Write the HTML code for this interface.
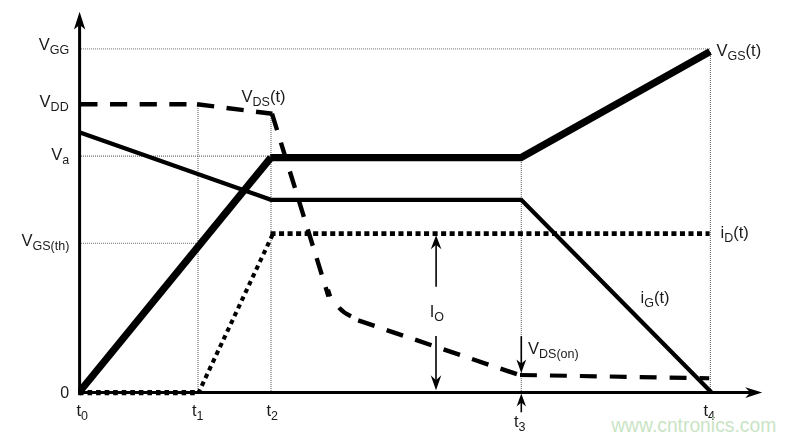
<!DOCTYPE html>
<html>
<head>
<meta charset="utf-8">
<style>
html,body{margin:0;padding:0;background:#fff;}
body{width:795px;height:440px;overflow:hidden;}
svg{display:block;}
text{font-family:"Liberation Sans",sans-serif;fill:#1a1a1a;}
.m{font-size:16.5px;}
.s{font-size:12.5px;}
.g{stroke:#6c6c6c;stroke-width:1.15;stroke-dasharray:1 1;fill:none;}
.gl{stroke:#8e8e8e;stroke-width:1.3;stroke-dasharray:1 1;fill:none;}
.k{stroke:#000;fill:none;}
.d{stroke:#000;fill:none;stroke-width:4.4;}
</style>
</head>
<body>
<svg width="795" height="440" viewBox="0 0 795 440">
<defs><filter id="gs" x="0" y="0" width="795" height="440" filterUnits="userSpaceOnUse" color-interpolation-filters="sRGB"><feColorMatrix type="saturate" values="0"/></filter></defs>
<rect width="795" height="440" fill="#fff"/>
<g filter="url(#gs)">

<!-- grid lines -->
<line class="gl" x1="81" y1="48.9" x2="710" y2="48.9"/>
<line class="g" x1="81" y1="156.1" x2="271" y2="156.1"/>
<line class="gl" x1="81" y1="243.4" x2="198" y2="243.4"/>
<line class="g" x1="198.0" y1="104" x2="198.0" y2="391"/>
<line class="g" x1="271.0" y1="114" x2="271.0" y2="391"/>
<line class="g" x1="521.3" y1="158" x2="521.3" y2="391"/>
<line class="g" x1="710.4" y1="52" x2="710.4" y2="391"/>

<!-- axes -->
<line class="k" x1="79.6" y1="395.3" x2="79.6" y2="24" stroke-width="3"/>
<polygon points="79.60,11.80 85.30,29.40 79.60,25.00 73.90,29.40" fill="#000"/>
<line class="k" x1="78.1" y1="392.6" x2="750" y2="392.6" stroke-width="3"/>
<polygon points="762.20,392.60 745.20,398.00 750.20,392.60 745.20,387.20" fill="#000"/>

<!-- iD(t) dotted -->
<line class="k" x1="80" y1="392.6" x2="198" y2="392.6" stroke-width="5.4" stroke-dasharray="4.6 3.95" stroke-dashoffset="1"/>
<line class="k" x1="272.6" y1="234.6" x2="198.6" y2="392.6" stroke-width="4.1" stroke-dasharray="4.5 4.05"/>
<line class="k" x1="270.5" y1="233.7" x2="709.6" y2="233.7" stroke-width="4.8" stroke-dasharray="5.05 3.48"/>

<!-- iG(t) -->
<polyline class="k" points="80,132.5 271,199.8 521.3,199.8 711.3,392.3" stroke-width="4.25" stroke-linejoin="miter"/>

<!-- VGS(t) thick -->
<clipPath id="c"><rect x="78.1" y="0" width="700" height="395.3"/></clipPath>
<line class="k" x1="78.7" y1="392.8" x2="270.9" y2="157.6" stroke-width="7.3" clip-path="url(#c)"/>
<polygon points="270.20,161.35 521.95,161.35 711.79,54.78 708.21,48.42 520.05,154.05 270.20,154.05" fill="#000"/>

<!-- VDS(t) dashed -->
<line class="d" x1="80.3" y1="104.3" x2="198" y2="104.3" stroke-dasharray="17.2 12.47"/>
<line class="d" x1="197" y1="104.2" x2="272.4" y2="113.8" stroke-dasharray="17.3 12.45"/>
<line class="d" x1="272" y1="113.7" x2="328.5" y2="296.5" stroke-dasharray="17.2 13.05"/>
<line class="k" x1="328.3" y1="289.6" x2="330.4" y2="296.4" stroke-width="3.6"/>
<path class="d" d="M339,307.6 Q343.5,312.8 351,316.3"/>
<line class="d" x1="358.2" y1="320.4" x2="517.2" y2="374.3" stroke-dasharray="17.3 12.75"/>
<line class="k" x1="520" y1="375" x2="709.2" y2="378.3" stroke-width="4.1" stroke-dasharray="16.9 13.03"/>

<!-- IO arrows -->
<line class="k" x1="436.1" y1="286.8" x2="436.1" y2="244" stroke-width="1.6"/>
<polygon points="436.10,235.30 441.40,249.30 436.10,244.80 430.80,249.30" fill="#000"/>
<line class="k" x1="436" y1="336.1" x2="436" y2="381" stroke-width="1.6"/>
<polygon points="436.00,390.30 430.70,375.30 436.00,380.30 441.30,375.30" fill="#000"/>

<!-- VDS(on) arrow -->
<line class="k" x1="521.3" y1="336.2" x2="521.3" y2="364" stroke-width="1.6"/>
<polygon points="521.30,373.00 516.40,359.50 521.30,363.50 526.20,359.50" fill="#000"/>
<!-- t3 arrow -->
<line class="k" x1="521.3" y1="412.3" x2="521.3" y2="402" stroke-width="1.6"/>
<polygon points="521.30,393.60 526.00,406.60 521.30,402.60 516.60,406.60" fill="#000"/>

<!-- labels -->
<text class="m" x="38.8" y="50">V<tspan class="s" dy="4">GG</tspan></text>
<text class="m" x="39.6" y="106.5">V<tspan class="s" dy="4">DD</tspan></text>
<text class="m" x="51.3" y="160">V<tspan class="s" dy="4">a</tspan></text>
<text class="m" x="21.5" y="246">V<tspan class="s" dy="4">GS(th)</tspan></text>
<text class="m" x="60.2" y="397.6" style="font-size:16px">0</text>

<text class="m" x="76.5" y="416.3">t<tspan class="s" dy="4">0</tspan></text>
<text class="m" x="192" y="416.3">t<tspan class="s" dy="4">1</tspan></text>
<text class="m" x="266.5" y="416.3">t<tspan class="s" dy="4">2</tspan></text>
<text class="m" x="514" y="426.6">t<tspan class="s" dy="4">3</tspan></text>
<text class="m" x="703.5" y="415.5">t<tspan class="s" dy="4">4</tspan></text>

<text class="m" x="241.5" y="101.5">V<tspan class="s" dy="4">DS</tspan><tspan dy="-4">(t)</tspan></text>
<text class="m" x="716.5" y="55.5">V<tspan class="s" dy="4">GS</tspan><tspan dy="-4">(t)</tspan></text>
<text class="m" x="720.5" y="237.5">i<tspan class="s" dy="4">D</tspan><tspan dy="-4">(t)</tspan></text>
<text class="m" x="640.5" y="302.5">i<tspan class="s" dy="4">G</tspan><tspan dy="-4">(t)</tspan></text>
<text class="m" x="429.7" y="317">I<tspan class="s" dy="4">O</tspan></text>
<text class="m" x="528" y="353.7">V<tspan class="s" dy="4">DS(on)</tspan></text>

</g>
<!-- watermark -->
<text x="611.2" y="431.6" style="font-size:19.3px;fill:#c9e4c4;">www.cntronics.com</text>
</svg>
</body>
</html>
